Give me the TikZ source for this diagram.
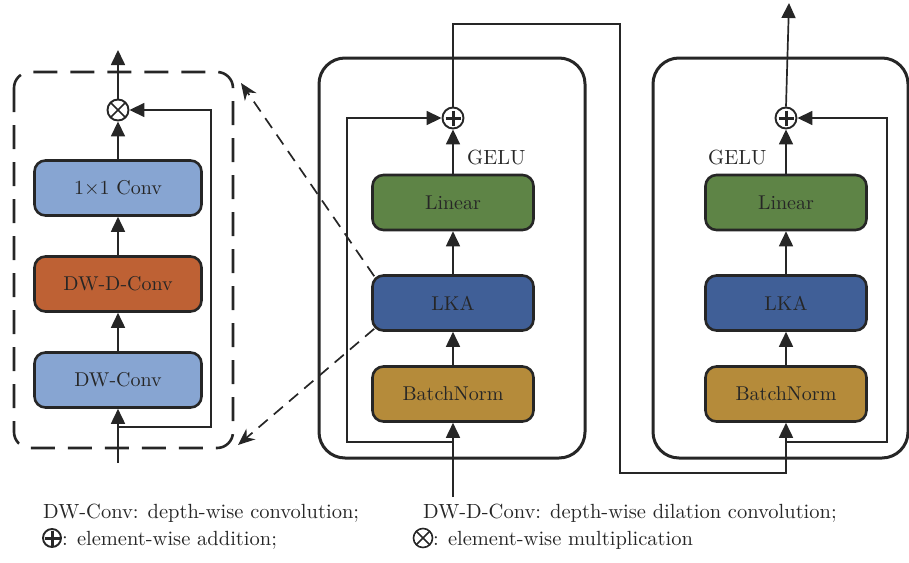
\documentclass[tikz,border=0pt]{standalone}
\usepackage{fontspec}
\setmainfont{lmroman10-regular}[Extension=.otf]
\usetikzlibrary{arrows.meta,calc}
\definecolor{ink}{HTML}{262626}
\definecolor{lblue}{HTML}{87A5D2}
\definecolor{dorange}{HTML}{BE6134}
\definecolor{dgreen}{HTML}{5E8446}
\definecolor{dblue}{HTML}{405F97}
\definecolor{gold}{HTML}{B58B3A}
\tikzset{
  blk/.style={draw=ink,line width=2.6pt,rounded corners=11pt,minimum height=55pt,
    inner sep=0pt,text=ink,font=\fontsize{20}{24}\selectfont},
  wideblk/.style={blk,minimum width=167pt},
  midblk/.style={blk,minimum width=161pt},
  conn/.style={draw=ink,line width=1.7pt},
  arr/.style={conn,-{Triangle[length=15pt,width=14pt]}},
  opc/.style={circle,draw=ink,line width=1.9pt,minimum size=21pt,inner sep=0pt,fill=white},
  outerbox/.style={draw=ink,line width=3pt,rounded corners=26pt},
  lbl/.style={text=ink,font=\fontsize{20.5}{24}\selectfont,inner sep=0pt},
  dsh/.style={draw=ink,line width=1.7pt,dash pattern=on 12pt off 8pt,-{Stealth[length=17pt,width=14pt]}},
}
\newcommand{\plusmark}[1]{\draw[ink,line width=3pt] ($(#1)+(-7.5,0)$) -- ($(#1)+(7.5,0)$) ($(#1)+(0,-7.5)$) -- ($(#1)+(0,7.5)$);}
\newcommand{\timesmark}[1]{\draw[ink,line width=1.6pt] ($(#1)+(-7,-7)$) -- ($(#1)+(7,7)$) ($(#1)+(-7,7)$) -- ($(#1)+(7,-7)$);}
\begin{document}
\begin{tikzpicture}[x=1pt,y=-1pt]
\useasboundingbox (0,0) rectangle (909,562);

% ---------- left: LKA detail ----------
\draw[draw=ink,line width=2.6pt,rounded corners=16pt,dash pattern=on 24pt off 13pt] (14,72) rectangle (233,448);
\node[wideblk,fill=lblue] (c11) at (118,188) {1×1 Conv};
\node[wideblk,fill=dorange] (dwd) at (118,284) {DW-D-Conv};
\node[wideblk,fill=lblue] (dw) at (118,380) {DW-Conv};
\node[opc] (mul) at (118,110) {};
\timesmark{mul}
\coordinate (lin0) at (118,463);
\coordinate (lbr) at (118,427);
\coordinate (lout) at (118,50);
\draw[arr] (lin0) -- (dw.south);
\draw[arr] (dw.north) -- (dwd.south);
\draw[arr] (dwd.north) -- (c11.south);
\draw[arr] (c11.north) -- (mul.south);
\draw[arr] (mul.north) -- (lout);
\draw[arr] (lbr) -| (211,110) -- (mul.east);

% ---------- middle block ----------
\draw[outerbox] (319,58) rectangle (585,458);
\node[midblk,fill=dgreen] (lin1) at (453,202.5) {Linear};
\node[midblk,fill=dblue] (lka1) at (453,303) {LKA};
\node[midblk,fill=gold] (bn1) at (453,394) {BatchNorm};
\node[opc] (add1) at (453,118) {};
\plusmark{add1}
\node[lbl,anchor=base west] (g1) at (467,164) {GELU};
\coordinate (in1) at (453,497);
\coordinate (br1) at (453,442);
\draw[arr] (in1) -- (bn1.south);
\draw[arr] (bn1.north) -- (lka1.south);
\draw[arr] (lka1.north) -- (lin1.south);
\draw[arr] (lin1.north) -- (add1.south);
\draw[arr] (br1) -| (347,118) -- (add1.west);

% ---------- right block ----------
\draw[outerbox] (653,58) rectangle (908,458);
\node[midblk,fill=dgreen] (lin2) at (786,202.5) {Linear};
\node[midblk,fill=dblue] (lka2) at (786,303) {LKA};
\node[midblk,fill=gold] (bn2) at (786,394) {BatchNorm};
\node[opc] (add2) at (786,118) {};
\plusmark{add2}
\node[lbl,anchor=base west] (g2) at (708,164) {GELU};
\coordinate (br2) at (786,442);
\coordinate (out2) at (789,3);
\draw[arr] (bn2.north) -- (lka2.south);
\draw[arr] (lka2.north) -- (lin2.south);
\draw[arr] (lin2.north) -- (add2.south);
\draw[arr] (br2) -| (887,118) -- (add2.east);
\draw[arr] (add2.north) -- (out2);

% connection between blocks
\draw[arr] (add1.north) |- (620,24) |- (786,473) -- (bn2.south);

% ---------- zoom dashes ----------
\draw[dsh] ($(lka1.north west)+(3,2)$) -- (241,83);
\draw[dsh] ($(lka1.south west)+(3,-3)$) -- (238,445);

% ---------- legend ----------
\node[lbl,anchor=base west] (t1) at (43,518) {DW-Conv: depth-wise convolution;};
\node[lbl,anchor=base west] (t2) at (423,518) {DW-D-Conv: depth-wise dilation convolution;};
\node[circle,draw=ink,line width=1.9pt,minimum size=18pt,inner sep=0pt] (lp) at (52,538) {};
\plusmark{lp}
\node[lbl,anchor=base west] (t3) at (62,545) {: element-wise addition;};
\node[circle,draw=ink,line width=1.6pt,minimum size=19pt,inner sep=0pt] (lx) at (423,538) {};
\timesmark{lx}
\node[lbl,anchor=base west] (t4) at (433,545) {: element-wise multiplication};
\end{tikzpicture}
\end{document}
